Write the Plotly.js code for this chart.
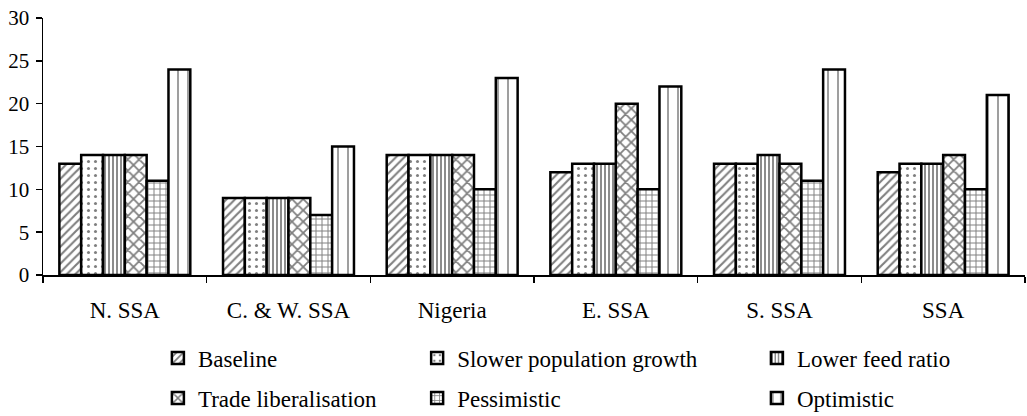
<!DOCTYPE html>
<html>
<head>
<meta charset="utf-8">
<script src="https://cdn.plot.ly/plotly-3.0.1.min.js"></script>
<style>html,body{margin:0;padding:0;background:#fff;}#chart{width:1027px;height:416px;}</style>
</head>
<body>
<div id="chart"></div>
<script>
const regions = ["N. SSA", "C. & W. SSA", "Nigeria", "E. SSA", "S. SSA", "SSA"];
const baseline = [13, 9, 14, 12, 13, 12];
const slowerPopulation = [14, 9, 14, 13, 13, 13];
const lowerFeed = [14, 9, 14, 13, 14, 13];
const tradeLib = [14, 9, 14, 20, 13, 14];
const pessimistic = [11, 7, 10, 10, 11, 10];
const optimistic = [24, 15, 23, 22, 24, 21];
const seriesNames = ["Baseline", "Slower population growth", "Lower feed ratio", "Trade liberalisation", "Pessimistic", "Optimistic"];
const yTicks = [0, 5, 10, 15, 20, 25, 30];

const seriesValues = [baseline, slowerPopulation, lowerFeed, tradeLib, pessimistic, optimistic];
const patterns = [
  {shape: "/", size: 6, solidity: 0.35},
  {shape: ".", size: 7, solidity: 0.15},
  {shape: "|", size: 4, solidity: 0.45},
  {shape: "x", size: 8, solidity: 0.4},
  {shape: "+", size: 6, solidity: 0.3},
  {shape: "|", size: 10, solidity: 0.15}
];
const legendIds = ["legend", "legend2", "legend3", "legend4", "legend5", "legend6"];

const traces = seriesValues.map((vals, i) => ({
  type: "bar",
  name: seriesNames[i],
  x: regions,
  y: vals,
  legend: legendIds[i],
  marker: {
    color: "#ffffff",
    line: {color: "#000000", width: 2.5},
    pattern: Object.assign({fgcolor: "#000000", bgcolor: "#ffffff", fillmode: "overlay"}, patterns[i])
  },
  hoverinfo: "x+y+name"
}));

const fontFamily = "Liberation Serif, DejaVu Serif, serif";
// legend placement: column x (paper) and row y (paper)
const colX = [0.117, 0.381, 0.727];
const rowY = [-0.323, -0.479];
const layout = {
  width: 1027, height: 416,
  margin: {l: 43, r: 2, t: 18, b: 141, autoexpand: false},
  paper_bgcolor: "#ffffff", plot_bgcolor: "#ffffff",
  font: {family: fontFamily, size: 22, color: "#000000"},
  barmode: "group",
  bargap: 0.2,
  bargroupgap: 0,
  xaxis: {
    type: "category",
    showline: true, linecolor: "#000", linewidth: 2,
    ticks: "outside", tickson: "boundaries", ticklen: 6, tickwidth: 1.5, tickcolor: "#000",
    showgrid: false, zeroline: false, automargin: false,
    ticklabelstandoff: 13,
    tickfont: {family: fontFamily, size: 23}
  },
  yaxis: {
    range: [0, 30],
    tickvals: yTicks,
    showline: true, linecolor: "#000", linewidth: 1.5,
    ticks: "outside", ticklen: 6, tickwidth: 1.5, tickcolor: "#000",
    showgrid: false, zeroline: false, automargin: false,
    ticklabelstandoff: 2,
    tickfont: {family: fontFamily, size: 21}
  },
  showlegend: true
};
legendIds.forEach((id, i) => {
  layout[id] = {
    x: colX[i % 3], xanchor: "left",
    y: rowY[Math.floor(i / 3)], yanchor: "middle",
    orientation: "v",
    bgcolor: "rgba(0,0,0,0)",
    font: {family: fontFamily, size: 23, color: "#000"},
    itemwidth: 30
  };
});

Plotly.newPlot("chart", traces, layout, {displayModeBar: false, staticPlot: true});
</script>
</body>
</html>
